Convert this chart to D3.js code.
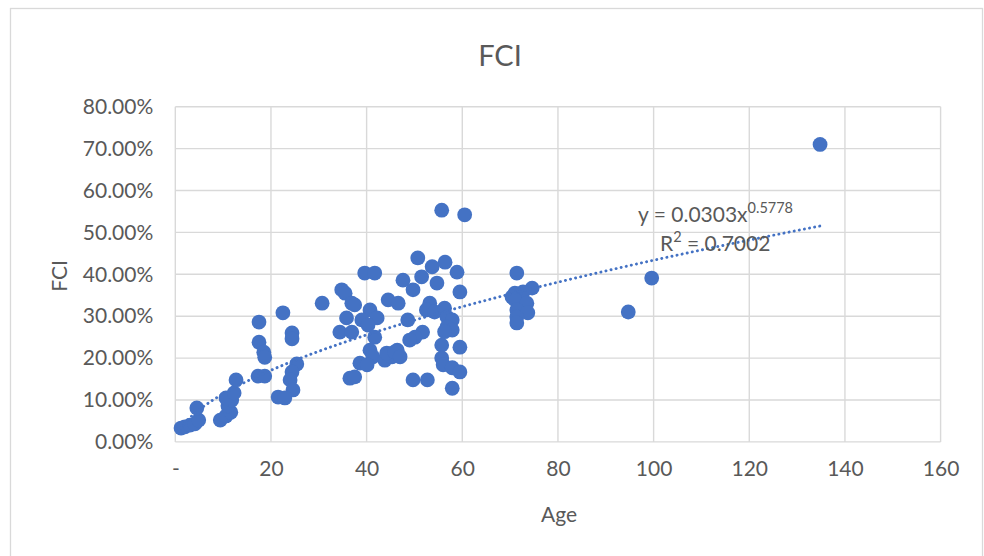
<!DOCTYPE html>
<html>
<head>
<meta charset="utf-8">
<script src="https://cdn.jsdelivr.net/npm/d3@7"></script>
<style>
  html, body { margin: 0; padding: 0; background: #fff; }
  svg { display: block; font-family: Lato, "Noto Sans", sans-serif; }
</style>
</head>
<body>
<svg id="chart" width="984" height="556"></svg>
<script>
// ---- data (Age, FCI) ----
const ages = [
  1.2, 2.0, 3.1, 4.1, 4.9, 4.5, 9.4, 10.6, 11.6, 11.0, 11.8, 10.6, 12.3, 12.7,
  17.5, 22.5, 17.5, 18.5, 18.7, 24.4, 24.4, 17.3, 18.7, 25.4, 24.4, 24.0, 24.6, 21.5, 22.9,
  30.7, 34.8, 35.5, 36.9, 37.5, 35.8, 34.4, 36.9, 40.7, 42.2, 39.0, 40.3, 41.7, 40.7, 41.3,
  38.6, 40.1, 43.8, 45.3, 46.4, 36.5, 37.5, 39.6, 41.7, 44.5,
  50.7, 53.7, 56.4, 58.9, 47.6, 51.5, 54.7, 49.7, 59.5, 46.6, 53.2, 52.5, 54.2, 56.3, 56.8,
  57.9, 56.8, 57.9, 56.3, 48.6, 51.7, 50.1, 49.0, 55.7, 59.5, 44.2, 45.9, 47.0, 55.7, 56.0,
  57.9, 59.5, 49.7, 52.7, 57.9, 55.7, 60.5,
  71.4, 74.6, 72.7, 71.0, 70.4, 71.0, 73.5, 71.4, 73.7, 71.4, 71.4,
  99.6, 94.7, 134.8
];
const fci = [
  0.033, 0.036, 0.040, 0.043, 0.052, 0.081, 0.052, 0.062, 0.071, 0.086, 0.100, 0.105, 0.117, 0.148,
  0.286, 0.308, 0.238, 0.214, 0.202, 0.260, 0.246, 0.157, 0.157, 0.186, 0.167, 0.148, 0.124, 0.107, 0.105,
  0.331, 0.363, 0.355, 0.331, 0.327, 0.296, 0.262, 0.262, 0.315, 0.296, 0.291, 0.279, 0.250, 0.219, 0.203,
  0.188, 0.184, 0.195, 0.203, 0.219, 0.152, 0.155, 0.403, 0.403, 0.339,
  0.439, 0.418, 0.429, 0.405, 0.386, 0.394, 0.379, 0.363, 0.358, 0.331, 0.331, 0.315, 0.310, 0.319, 0.298,
  0.291, 0.274, 0.267, 0.263, 0.291, 0.262, 0.250, 0.243, 0.231, 0.226, 0.212, 0.215, 0.203, 0.200, 0.184,
  0.177, 0.167, 0.148, 0.148, 0.128, 0.553, 0.542,
  0.403, 0.367, 0.358, 0.355, 0.346, 0.339, 0.331, 0.315, 0.308, 0.298, 0.284,
  0.391, 0.310, 0.710
];
const xTicks = [0, 20, 40, 60, 80, 100, 120, 140, 160];
const yTicks = [0, 0.1, 0.2, 0.3, 0.4, 0.5, 0.6, 0.7, 0.8];
// power trendline y = a * x^b
const trendA = 0.0303;
const trendB = 0.5778;
const eqText = "y = 0.0303x";
const eqExp = "0.5778";
const r2Text = "0.7002";

const svg = d3.select("#chart");
const W = 984, H = 556;
const blue = "#4472C4";
const textCol = "#595959";
const gridCol = "#D9D9D9";

// chart border
svg.append("rect").attr("x", 10.5).attr("y", 8.5).attr("width", W - 12).attr("height", H - 6)
  .attr("fill", "#fff").attr("stroke", gridCol).attr("stroke-width", 1.3);

const x = d3.scaleLinear().domain([0, 160]).range([175.3, 940.6]);
const y = d3.scaleLinear().domain([0, 0.8]).range([441.9, 106.7]);

// gridlines
const g = svg.append("g");
g.selectAll("line.h").data(yTicks).join("line")
  .attr("x1", x(0)).attr("x2", x(160))
  .attr("y1", d => y(d)).attr("y2", d => y(d))
  .attr("stroke", gridCol).attr("stroke-width", 1.4);
g.selectAll("line.v").data(xTicks).join("line")
  .attr("y1", y(0)).attr("y2", y(0.8))
  .attr("x1", d => x(d)).attr("x2", d => x(d))
  .attr("stroke", gridCol).attr("stroke-width", 1.4);

// axes tick labels via d3 axes
const yAxis = d3.axisLeft(y).tickValues(yTicks).tickFormat(d3.format(".2%")).tickSize(0).tickPadding(22);
const yG = svg.append("g").attr("transform", `translate(${x(0)},0)`).call(yAxis);
yG.select(".domain").remove();
yG.selectAll("text").attr("fill", textCol).attr("font-size", 21).attr("font-family", "Lato, sans-serif");

const xAxis = d3.axisBottom(x).tickValues(xTicks).tickFormat(d => d === 0 ? "-" : d).tickSize(0).tickPadding(19);
const xG = svg.append("g").attr("transform", `translate(0,${y(0)})`).call(xAxis);
xG.select(".domain").remove();
xG.selectAll("text").attr("fill", textCol).attr("font-size", 21).attr("font-family", "Lato, sans-serif");

// points
const pts = ages.map((a, i) => ({ a, f: fci[i] }));
svg.append("g").selectAll("circle").data(pts).join("circle")
  .attr("cx", d => x(d.a)).attr("cy", d => y(d.f)).attr("r", 7.4)
  .attr("fill", blue);

// trendline
const xmin = d3.min(ages), xmax = d3.max(ages);
const trend = d3.range(0, 201).map(i => {
  const xv = xmin + (xmax - xmin) * i / 200;
  return [xv, trendA * Math.pow(xv, trendB)];
});
svg.append("path").datum(trend)
  .attr("d", d3.line().x(d => x(d[0])).y(d => y(d[1])))
  .attr("fill", "none").attr("stroke", blue).attr("stroke-width", 2.9)
  .attr("stroke-dasharray", "0.1 5.1").attr("stroke-linecap", "round");

// equation labels
const eq = svg.append("text").attr("x", 638).attr("y", 222)
  .attr("fill", textCol).attr("font-size", 21);
eq.append("tspan").text(eqText);
eq.append("tspan").attr("dy", -9).attr("font-size", 14.5).text(eqExp);
const r2 = svg.append("text").attr("x", 660).attr("y", 251)
  .attr("fill", textCol).attr("font-size", 21);
r2.append("tspan").text("R");
r2.append("tspan").attr("dy", -9).attr("font-size", 14.5).text("2");
r2.append("tspan").attr("dy", 9).text(" = " + r2Text);

// titles
svg.append("text").attr("x", 500).attr("y", 66).attr("text-anchor", "middle")
  .attr("fill", textCol).attr("font-size", 29).text("FCI");
svg.append("text").attr("x", 559).attr("y", 522).attr("text-anchor", "middle")
  .attr("fill", textCol).attr("font-size", 21).text("Age");
svg.append("text").attr("transform", "translate(67,276) rotate(-90)").attr("text-anchor", "middle")
  .attr("fill", textCol).attr("font-size", 21).text("FCI");
</script>
</body>
</html>
